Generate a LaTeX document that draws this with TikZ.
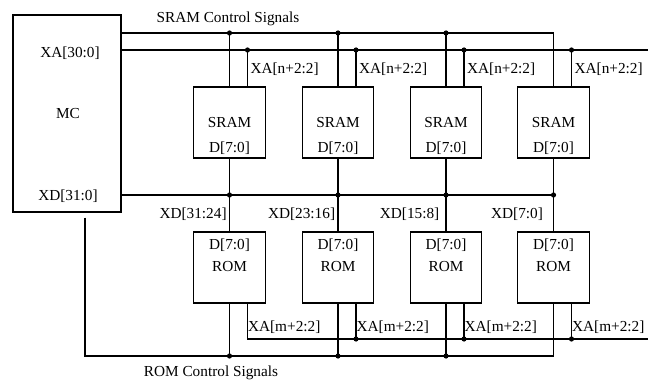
\documentclass[tikz,border=0pt]{standalone}
\usepackage{fontspec}
\setmainfont{Liberation Serif}

\tikzset{
    chip/.style={draw, minimum width=1.43cm, minimum height=1.42cm, inner sep=0pt},
    sig/.style={inner sep=0.5pt, anchor=west}
}

\begin{document}
\begin{tikzpicture}[x=0.02cm,y=-0.02cm,line width=0.8pt,font=\fontsize{8.7}{10}\selectfont]
    \useasboundingbox (0,0) rectangle (648,381);

    % bus levels (y in px from the top)
    \coordinate (sctl)  at (0,33);
    \coordinate (abus)  at (0,50);
    \coordinate (dbus)  at (0,195);
    \coordinate (rabus) at (0,339);
    \coordinate (rctl)  at (0,356);
    \coordinate (aend)  at (648,50);
    \coordinate (raend) at (648,339);

    % controller
    \node[draw, minimum width=2.16cm, minimum height=3.94cm, inner sep=0pt] (mc) at (67,113.5) {};
    \node (mctxt) at (68,113.5) {MC};
    \node (mcxa)  at (70,53) {XA[30:0]};
    \node (mcxd)  at (68,196) {XD[31:0]};

    % memory chips
    \foreach \i/\x/\d in {1/229.5/31:24, 2/338/23:16, 3/446/15:8, 4/553.5/7:0} {
        \node[chip] (sram\i) at (\x,122.5) {};
        \node (sramtxt\i) at (\x,122.5) {SRAM};
        \node (sramd\i)   at (\x,148) {D[7:0]};
        \node[chip] (rom\i) at (\x,267.5) {};
        \node (romd\i)    at (\x,245) {D[7:0]};
        \node (romtxt\i)  at (\x,266.5) {ROM};
        \node (xd\i) at (sram\i.west |- 0,214) {XD[\d]};
        \coordinate (sa\i) at ([shift={(18,0)}]sram\i.north);
        \coordinate (ra\i) at ([shift={(18,0)}]rom\i.south);
        \node[sig] (xan\i) at ([shift={(1.5,0)}]sa\i |- 0,69.5) {XA[n+2:2]};
        \node[sig] (xam\i) at ([shift={(-1,0)}]ra\i |- 0,327.5) {XA[m+2:2]};
    }

    % sram control and address
    \draw (mc.east |- sctl) -- (sram4.north |- sctl) -- (sram4.north);
    \draw (mc.east |- abus) -- (aend);
    \foreach \i in {1,2,3} {
        \draw (sram\i.north) -- (sram\i.north |- sctl);
        \fill (sram\i.north |- sctl) circle (2.6);
    }
    \foreach \i in {1,2,3,4} {
        \draw (sa\i) -- (sa\i |- abus);
        \fill (sa\i |- abus) circle (2.6);
    }

    % data bus
    \draw (mc.east |- dbus) -- (sram4.south |- dbus);
    \foreach \i in {1,2,3,4} {
        \draw (sram\i.south) -- (rom\i.north);
        \fill (sram\i.south |- dbus) circle (2.6);
    }

    % rom address and control
    \draw (ra1) -- (ra1 |- rabus) -- (raend);
    \foreach \i in {2,3,4} {
        \draw (ra\i) -- (ra\i |- rabus);
        \fill (ra\i |- rabus) circle (2.6);
    }
    \coordinate (rc0) at ([shift={(18,5)}]mc.south);
    \draw (rc0) -- (rc0 |- rctl) -- (rom4.south |- rctl) -- (rom4.south);
    \foreach \i in {1,2,3} {
        \draw (rom\i.south) -- (rom\i.south |- rctl);
        \fill (rom\i.south |- rctl) circle (2.6);
    }

    \node (sctltxt) at (228,19) {SRAM Control Signals};
    \node (rctltxt) at (211,373) {ROM Control Signals};
\end{tikzpicture}
\end{document}
